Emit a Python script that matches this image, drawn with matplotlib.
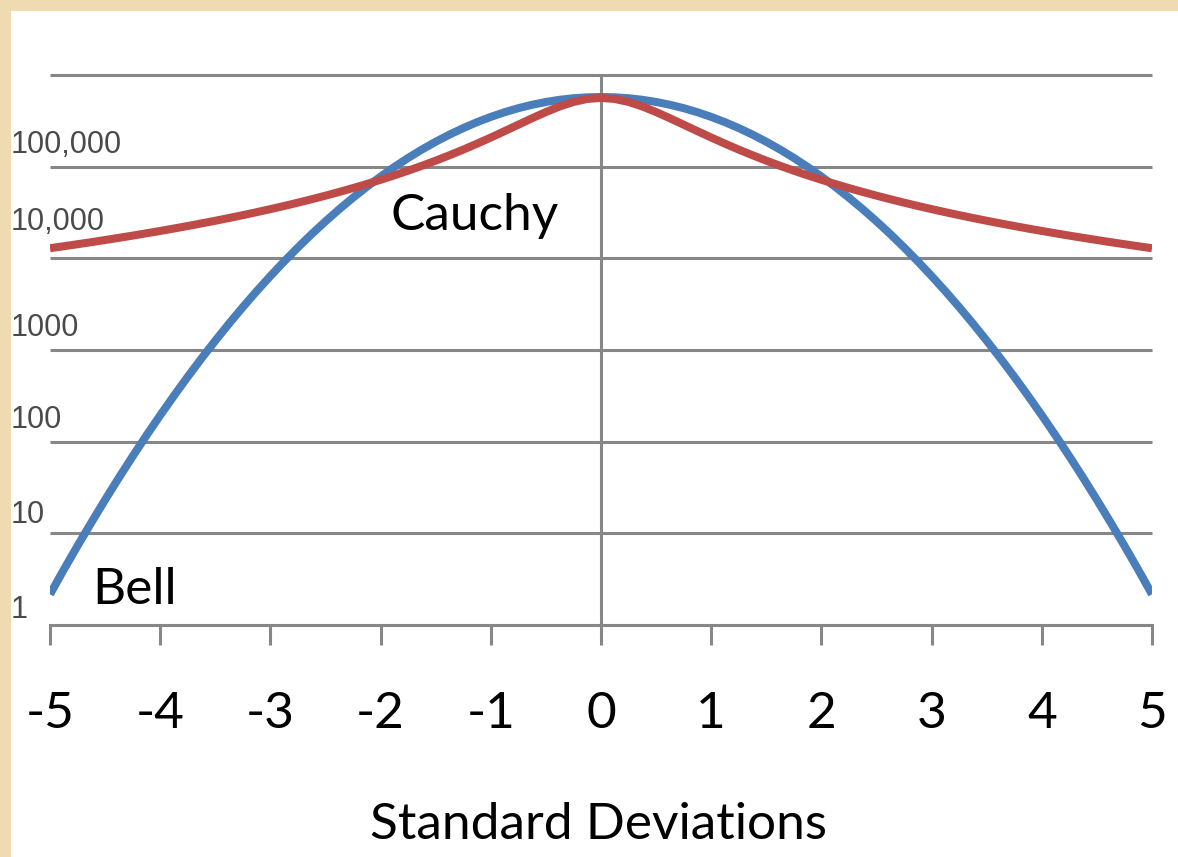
import matplotlib
matplotlib.use("Agg")
import matplotlib.pyplot as plt
from matplotlib.patches import Rectangle
from matplotlib import transforms, ticker

# ---------------- data ----------------
# x positions 0, 0.125, ... 5 (mirrored for negative side)
x_half = [0.0, 0.125, 0.25, 0.375, 0.5, 0.625, 0.75, 0.875, 1.0, 1.125,
          1.25, 1.375, 1.5, 1.625, 1.75, 1.875, 2.0, 2.125, 2.25, 2.375,
          2.5, 2.625, 2.75, 2.875, 3.0, 3.125, 3.25, 3.375, 3.5, 3.625,
          3.75, 3.875, 4.0, 4.125, 4.25, 4.375, 4.5, 4.625, 4.75, 4.875, 5.0]

bell_half = [575400, 571000, 557800, 536500, 507900, 473500, 434600, 392600,
             349100, 305800, 263600, 223800, 187000, 153800, 124600, 99340,
             77980, 60280, 45850, 34360, 25330, 18400, 13150, 9256, 6412,
             4375, 2938, 1942, 1264, 810, 511, 317, 194, 116.8, 69.2, 40.4,
             23.2, 13.1, 7.31, 4.01, 2.16]
cauchy_half = [562300, 547700, 508200, 453700, 394400, 337600, 287100,
               244000, 207900, 178100, 153500, 133200, 116300, 102200, 90400,
               80400, 71940, 64680, 58420, 52990, 48270, 44140, 40490, 37270,
               34420, 31870, 29590, 27550, 25700, 24040, 22520, 21150, 19890,
               18750, 17690, 16730, 15840, 15010, 14260, 13550, 12890]

x_sd = [-v for v in x_half[::-1]] + x_half[1:]
bell = bell_half[::-1] + bell_half[1:]
cauchy = cauchy_half[::-1] + cauchy_half[1:]

x_ticks = [-5, -4, -3, -2, -1, 0, 1, 2, 3, 4, 5]
y_grid = [1, 10, 100, 1000, 10000, 100000, 1000000]
y_labels = ["1", "10", "100", "1000", "10,000", "100,000"]

# ---------------- style ----------------
W, H, DPI = 1178, 857, 100
BG = "#EFDBB2"
GRID = "#878787"
BLUE = "#4A7EBB"
RED = "#BE4B48"
FONT = "Lato"
FS = 37

fig = plt.figure(figsize=(W / DPI, H / DPI), dpi=DPI, facecolor=BG)
fig.patches.append(Rectangle((11 / W, 0), 1 - 11 / W, (H - 11) / H,
                             transform=fig.transFigure, facecolor="white",
                             edgecolor="none", zorder=-5))

ax = fig.add_axes([50 / W, (H - 625) / H, 1102 / W, 550 / H])
ax.set_zorder(2)
ax.set_facecolor("none")
ax.set_yscale("log")
ax.set_xlim(-5, 5)
ax.set_ylim(1, 1e6)

for gy in y_grid[1:]:
    ax.axhline(gy, color=GRID, lw=2.2, zorder=1, solid_capstyle="butt",
               clip_on=False)
ax.axvline(0, color=GRID, lw=2.2, zorder=1)

ax.plot(x_sd, bell, color=BLUE, lw=5.8, zorder=3, solid_capstyle="butt")
ax.plot(x_sd, cauchy, color=RED, lw=5.8, zorder=4, solid_capstyle="butt")

for s in ["top", "right", "left"]:
    ax.spines[s].set_visible(False)
ax.spines["bottom"].set_color(GRID)
ax.spines["bottom"].set_linewidth(2.2)
ax.spines["bottom"].set_zorder(1)

ax.set_yticks([])
ax.yaxis.set_minor_locator(ticker.NullLocator())
ax.set_xticks(x_ticks)
ax.set_xticklabels([str(t) for t in x_ticks], fontfamily=FONT, fontsize=FS)
ax.tick_params(axis="x", direction="out", length=14.4, width=2.2,
               color=GRID, pad=33, labelcolor="black")

# y labels (custom placed, left aligned at the white panel edge)
label_pos = [0.164, 1.2, 2.236, 3.24, 4.396, 5.236]
ytrans = transforms.blended_transform_factory(fig.transFigure, ax.transData)
for lab, lp in zip(y_labels, label_pos):
    fig.text(11 / W, 10 ** lp, lab, fontfamily="Liberation Sans", fontsize=22,
             color="#4a4a4a", ha="left", va="center", transform=ytrans,
             zorder=5)

ax.text(-1.91, 10 ** 4.309, "Cauchy", fontfamily=FONT, fontsize=FS,
        color="black", ha="left", va="baseline", zorder=5)
ax.text(-4.62, 10 ** 0.226, "Bell", fontfamily=FONT, fontsize=FS,
        color="black", ha="left", va="baseline", zorder=5)

fig.text(598 / W, (H - 839) / H, "Standard Deviations", fontfamily=FONT,
         fontsize=FS, color="black", ha="center", va="baseline")

fig.savefig("out.png", dpi=DPI, facecolor=BG)
